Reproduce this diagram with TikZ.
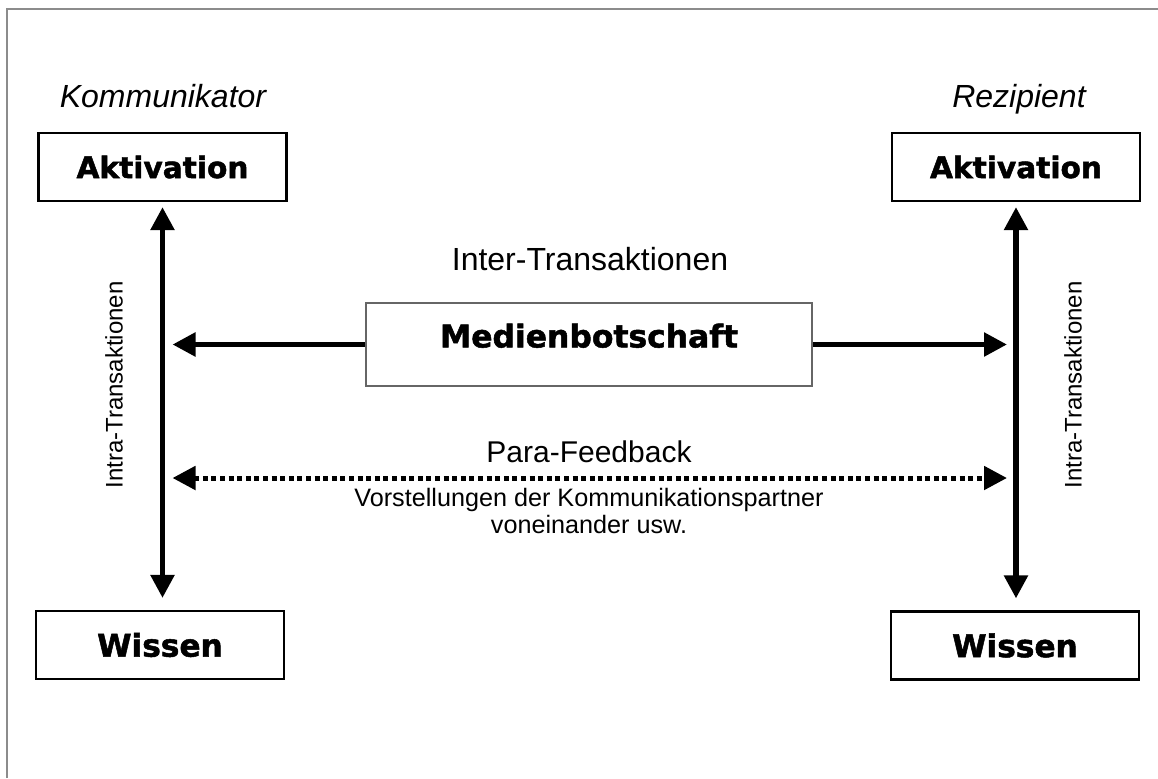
\documentclass[tikz,border=0pt]{standalone}
\usepackage{fontspec}
\setmainfont{Liberation Sans}
\newfontfamily\heavyfont{DejaVu Sans}[BoldFeatures={FakeBold=1.6}]
\usetikzlibrary{arrows.meta}

\begin{document}
\begin{tikzpicture}[x=0.5pt,y=-0.5pt,
  kasten/.style={draw=black,line width=1.1pt,minimum width=124pt,minimum height=34pt,inner sep=0pt,
    font=\heavyfont\bfseries\fontsize{14.8}{18}\selectfont},
  rolle/.style={anchor=base,font=\itshape\fontsize{16}{19}\selectfont},
  pfeil/.style={line width=2.7pt,-{Triangle[length=11.5pt,width=11.5pt]}},
  pfeilpaar/.style={line width=2.7pt,{Triangle[length=11.5pt,width=11.5pt]}-{Triangle[length=11.5pt,width=11.5pt]}},
  rueckpfeil/.style={line width=2.5pt,dash pattern=on 2.5pt off 1.8pt,{Triangle[length=11.5pt,width=11.5pt]}-{Triangle[length=11.5pt,width=11.5pt]}}]
\useasboundingbox (0,0) rectangle (1158,778);
\draw[black!45,line width=0.8pt] (7,778) -- (7,9) -- (1158,9);

\node[rolle] (kom) at (163,107) {Kommunikator};
\node[rolle] (rez) at (1019,107) {Rezipient};
\node[kasten] (akl) at (162.5,167) {Aktivation};
\node[kasten] (akr) at (1016,167) {Aktivation};
\node[kasten,font=\heavyfont\bfseries\fontsize{15.6}{18}\selectfont] (wil) at (160,645) {Wissen};
\node[kasten,font=\heavyfont\bfseries\fontsize{15.6}{18}\selectfont] (wir) at (1015,645.5) {Wissen};

\node[anchor=base,font=\fontsize{16}{19}\selectfont] (inter) at (590,270) {Inter-Transaktionen};
\node[draw=black!60,line width=0.8pt,minimum width=223pt,minimum height=41.5pt,inner sep=0pt,text depth=9pt,
  font=\heavyfont\bfseries\fontsize{15.7}{18}\selectfont] (med) at (589,344.5) {Medienbotschaft};
\node[anchor=base,font=\fontsize{15}{18}\selectfont] (para) at (589,462) {Para-Feedback};
\node[anchor=base,align=center,font=\fontsize{12.6}{13.5}\selectfont] (vor) at (589,533)
  {Vorstellungen der Kommunikationspartner\\voneinander usw.};
\node[rotate=90,font=\fontsize{12}{14}\selectfont] (intral) at (114,385) {Intra-Transaktionen};
\node[rotate=90,font=\fontsize{12}{14}\selectfont] (intrar) at (1073,385) {Intra-Transaktionen};

\draw[pfeilpaar,shorten <=2.5pt,shorten >=6pt] (akl.south) -- (akl.south |- wil.north);
\draw[pfeilpaar,shorten <=2.5pt,shorten >=6pt] (akr.south) -- (akr.south |- wir.north);
\draw[pfeil,shorten >=5pt] (med.west) -- (med.west -| akl.south);
\draw[pfeil,shorten >=4.5pt] (med.east) -- (med.east -| akr.south);
\coordinate (fbl) at (162.5,478);
\coordinate (fbr) at (1016,478);
\draw[rueckpfeil,shorten <=5pt,shorten >=4.5pt] (fbl) -- (fbr);
\end{tikzpicture}
\end{document}
